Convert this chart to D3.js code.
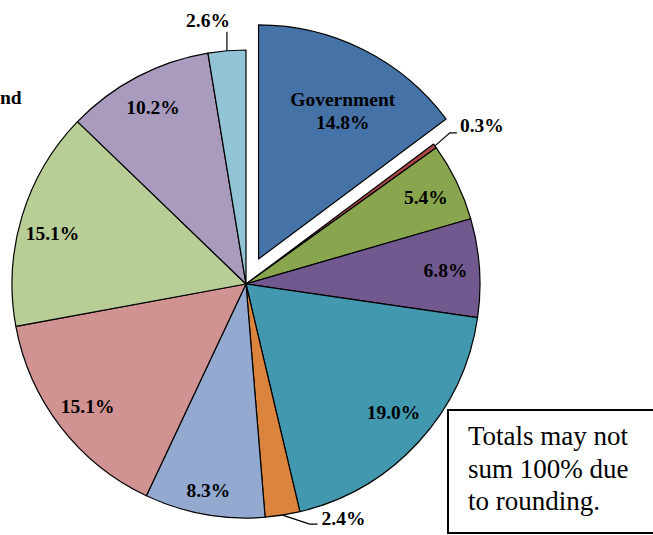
<!DOCTYPE html>
<html>
<head>
<meta charset="utf-8">
<script src="https://cdn.jsdelivr.net/npm/d3@7"></script>
<style>
  body { margin: 0; background: #fff; }
  svg { display: block; }
  .lbl { font-family: "Liberation Serif", "Times New Roman", serif; font-weight: bold; font-size: 19.5px; fill: #000; }
  .note { font-family: "Liberation Serif", "Times New Roman", serif; font-size: 27px; fill: #000; }
</style>
</head>
<body>
<script>
// Data (clockwise from 12 o'clock)
var categories = ["Government", "", "", "", "", "", "", "", "", "", ""];
var shares = [14.8, 0.3, 5.4, 6.8, 19.0, 2.4, 8.3, 15.1, 15.1, 10.2, 2.6];
var colours = ["#4572A7", "#AA4643", "#89A54E", "#71588F", "#4198AF", "#DB843D",
               "#93A9CF", "#D19392", "#B9CD96", "#A99BBD", "#92C4D6"];
var noteLines = ["Totals may not", "sum 100% due", "to rounding."];

var width = 653, height = 535;
var cx = 246, cy = 284, radius = 234;
var explode = 28;

// small label nudges (by slice index) to match the placement in the original
var nudge = {4: [0, -7], 6: [-2, 9], 8: [-2, 7]};

var data = shares.map(function(v, i) {
  return {name: categories[i], value: v, colour: colours[i]};
});

var svg = d3.select("body").append("svg")
  .attr("width", width)
  .attr("height", height);

var g = svg.append("g")
  .attr("transform", "translate(" + cx + "," + cy + ")");

var pie = d3.pie()
  .sort(null)
  .value(function(d) { return d.value; });

var arc = d3.arc()
  .innerRadius(0)
  .outerRadius(radius);

var labelArc = d3.arc().innerRadius(200).outerRadius(200);
var govArc = d3.arc().innerRadius(170).outerRadius(170);
var edgeArc = d3.arc().innerRadius(radius).outerRadius(radius);

var arcs = pie(data);

function shift(d) {
  if (d.index !== 0) return [0, 0];
  var a = (d.startAngle + d.endAngle) / 2;
  return [explode * Math.sin(a), -explode * Math.cos(a)];
}

//Slices
g.selectAll(".slice")
  .data(arcs)
  .enter().append("path")
  .attr("class", "slice")
  .attr("d", arc)
  .attr("transform", function(d) { var s = shift(d); return "translate(" + s[0] + "," + s[1] + ")"; })
  .attr("fill", function(d) { return d.data.colour; })
  .attr("stroke", "#000")
  .attr("stroke-width", 1.2)
  .attr("stroke-linejoin", "round");

function pct(d) { return d.data.value.toFixed(1) + "%"; }

//Labels inside
var inside = arcs.filter(function(d) { return d.data.value >= 5; });
inside.forEach(function(d) {
  var s = shift(d);
  if (d.index === 0) {
    var c = govArc.centroid(d);
    var t = g.append("text").attr("class", "lbl").attr("text-anchor", "middle");
    t.append("tspan").attr("x", c[0] + s[0] + 8).attr("y", c[1] + s[1] - 1).text(d.data.name);
    t.append("tspan").attr("x", c[0] + s[0] + 8).attr("y", c[1] + s[1] + 22).text(pct(d));
  } else {
    var c2 = labelArc.centroid(d);
    var n = nudge[d.index] || [0, 0];
    g.append("text").attr("class", "lbl")
      .attr("text-anchor", "middle")
      .attr("x", c2[0] + n[0]).attr("y", c2[1] + 7 + n[1])
      .text(pct(d));
  }
});

//Labels outside, with leader lines
var outside = arcs.filter(function(d) { return d.data.value < 5; });
outside.forEach(function(d) {
  var e = edgeArc.centroid(d);
  var a = (d.startAngle + d.endAngle) / 2;
  var pts, tx, ty, anchor;
  if (Math.sin(a) > 0.5) {            // right side
    pts = [e, [e[0] + 15, e[1] - 13], [e[0] + 22, e[1] - 13]];
    tx = e[0] + 25; ty = e[1] - 14; anchor = "start";
  } else if (Math.cos(a) < 0) {       // bottom
    pts = [e, [e[0] + 27, e[1] + 9], [e[0] + 35, e[1] + 9]];
    tx = e[0] + 39; ty = e[1] + 10; anchor = "start";
  } else {                            // top
    pts = [e, [e[0], e[1] - 19]];
    tx = e[0] + 3; ty = e[1] - 24; anchor = "end";
  }
  g.append("polyline")
    .attr("points", pts.map(function(p) { return p.join(","); }).join(" "))
    .attr("fill", "none")
    .attr("stroke", "#000")
    .attr("stroke-width", 1.2);
  g.append("text").attr("class", "lbl")
    .attr("text-anchor", anchor)
    .attr("x", tx).attr("y", ty)
    .text(pct(d));
});

//Cut off label at left edge
svg.append("text").attr("class", "lbl")
  .attr("x", 0).attr("y", 104)
  .text("nd");

//Note box
var note = svg.append("g").attr("transform", "translate(448,410)");
note.append("rect")
  .attr("width", 260).attr("height", 123)
  .attr("fill", "#fff")
  .attr("stroke", "#000")
  .attr("stroke-width", 2);
note.selectAll("text")
  .data(noteLines)
  .enter().append("text")
  .attr("class", "note")
  .attr("x", 20)
  .attr("y", function(d, i) { return 35 + i * 32.5; })
  .text(function(d) { return d; });
</script>
</body>
</html>
